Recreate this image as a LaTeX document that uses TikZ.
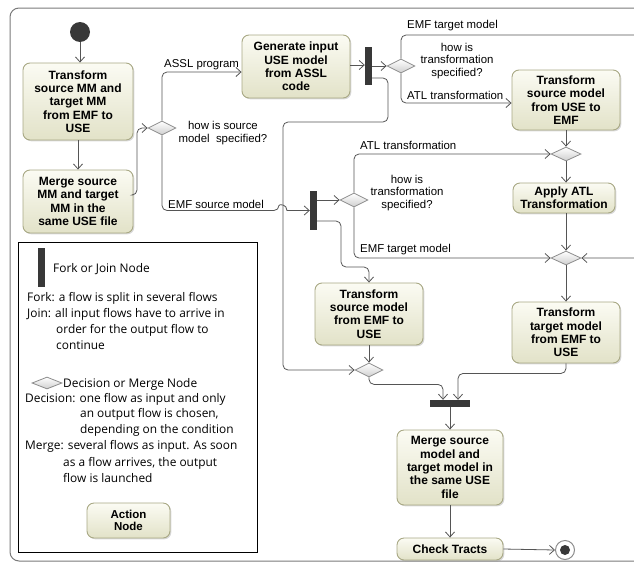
\documentclass[tikz,border=0pt]{standalone}
\usepackage{fontspec}
\setmainfont{Liberation Sans}
\newfontfamily\legendfont{Open Sans}
\usetikzlibrary{arrows.meta,shapes.geometric,shadows}
\definecolor{boxtop}{HTML}{FBFBF3}
\definecolor{boxbot}{HTML}{E2E2C8}
\definecolor{boxline}{HTML}{A8A884}
\definecolor{flow}{HTML}{555555}
\definecolor{barc}{HTML}{383838}
\definecolor{framec}{HTML}{7A7A7A}
\definecolor{diaml}{HTML}{8C8C8C}
\definecolor{diamf}{HTML}{CFCFCF}
\begin{document}
\begin{tikzpicture}[x=1pt,y=-1pt,
  action/.style={draw=boxline, line width=0.9pt, rounded corners=7pt,
    top color=boxtop, bottom color=boxbot, align=center, inner sep=0pt,
    font=\bfseries\fontsize{12}{13.3}\selectfont,
    drop shadow={shadow xshift=1.3pt, shadow yshift=-1.3pt, opacity=0.3, fill=gray}},
  decision/.style={diamond, aspect=2, draw=diaml, line width=0.8pt,
    top color=white, bottom color=diamf, minimum width=28pt, minimum height=14pt, inner sep=0pt},
  forkbar/.style={rectangle, fill=barc, draw=none, inner sep=0pt},
  initnode/.style={circle, fill=barc, draw=none, minimum size=20pt, inner sep=0pt},
  finalnode/.style={circle, fill=white, draw=diaml, line width=1pt, minimum size=19pt, inner sep=0pt,
    path picture={\fill[barc] (path picture bounding box.center) circle[radius=5pt];}},
  flowline/.style={draw=flow, line width=0.8pt, rounded corners=5pt},
  arr/.style={-{Straight Barb[length=5pt,width=9pt]}},
  lab/.style={font=\fontsize{11.4}{12.6}\selectfont, inner sep=0pt},
  leg/.style={font=\legendfont\fontsize{11.9}{13}\selectfont, inner sep=0pt, anchor=base west}
]
\useasboundingbox (0,0) rectangle (634,565);
\clip (0,0) rectangle (634,565);
\draw[framec, line width=1pt, rounded corners=9pt] (10,8) rectangle (720,561);

% ---- nodes
\node[initnode] (init) at (80,32) {};
\node[action, minimum width=110pt, minimum height=77pt] (a1) at (78,101.5) {Transform\\source MM and\\target MM\\from EMF to\\USE};
\node[action, minimum width=110pt, minimum height=63pt] (a2) at (78,201.5) {Merge source\\MM and target\\MM in the\\same USE file};
\node[decision] (dec1) at (162,128) {};
\node[action, minimum width=108pt, minimum height=63pt] (gen) at (296,66.5) {Generate input\\USE model\\from ASSL\\code};
\node[forkbar, minimum width=7pt, minimum height=38pt] (fork1) at (368.5,66) {};
\node[decision] (dec2) at (401,66) {};
\node[action, minimum width=108pt, minimum height=60pt] (tsu) at (566,100) {Transform\\source model\\from USE to\\EMF};
\node[decision, minimum width=30pt] (m3) at (566,154) {};
\node[action, minimum width=102pt, minimum height=30pt] (apply) at (564,198) {Apply ATL\\Transformation};
\node[decision, minimum width=30pt] (m4) at (566,258) {};
\node[action, minimum width=108pt, minimum height=61pt] (ttu) at (566,332.5) {Transform\\target model\\from EMF to\\USE};
\node[forkbar, minimum width=7pt, minimum height=39pt] (fork2) at (313.5,210.5) {};
\node[decision] (dec3) at (354,200) {};
\node[action, minimum width=108pt, minimum height=62pt] (tse) at (369,314) {Transform\\source model\\from EMF to\\USE};
\node[decision] (m5) at (369,370) {};
\node[forkbar, minimum width=40pt, minimum height=7pt] (join) at (450,403.5) {};
\node[action, minimum width=106pt, minimum height=75pt] (msm) at (450,467.5) {Merge source\\model and\\target model in\\the same USE\\file};
\node[action, minimum width=106pt, minimum height=22pt] (ct) at (450,549) {Check Tracts};
\node[finalnode] (fin) at (565,550) {};

% ---- connectors
\draw[flowline, arr] (init) -- (init |- a1.north);
\draw[flowline, arr] (a1.south) -- (a2.north);
\draw[flowline, arr] (a2.east |- 0,195) -- (137,195) |- (dec1.west);
\draw[flowline, arr] (dec1.north) |- (gen.west |- 0,72);
\draw[flowline, arr] (dec1.south) |- (279,210.5) [sharp corners] .. controls (279,204) and (287,204) .. (287,210.5) -- (fork2.west);
\draw[flowline, arr] (gen.east |- 0,65) -- (fork1.west |- 0,65);
\draw[flowline, arr] (fork1.east) -- (dec2.west);
\draw[flowline, arr] (fork1.east |- 0,78) -| (388,122) -| (283,370) -- (m5.west);
\draw[flowline, arr] (dec2.north) |- (660,35) |- (m4.east);
\draw[flowline, arr] (dec2.south) |- (tsu.west |- 0,103);
\draw[flowline, arr] (tsu.south) -- (m3.north);
\draw[flowline, arr] (dec3.north) |- (m3.west);
\draw[flowline, arr] (m3.south) -- (m3.south |- apply.north);
\draw[flowline, arr] (m4 |- apply.south) -- (m4.north);
\draw[flowline, arr] (fork2.east |- dec3) -- (dec3.west);
\draw[flowline, arr] (fork2.east |- 0,221) -| (341,267) -| (tse.north);
\draw[flowline, arr] (dec3.south) |- (m4.west);
\draw[flowline, arr] (m4.south) -- (ttu.north);
\draw[flowline, arr] (tse.south) -- (m5.north);
\draw[flowline, arr] (m5.south) -- ++(0,7) -| ([xshift=-7pt]join.north);
\draw[flowline, arr] (ttu.south) -- ++(0,10) -| ([xshift=8pt]join.north);
\draw[flowline, arr] (join.south) -- (msm.north);
\draw[flowline, arr] (msm.south) -- (ct.north);
\draw[flowline, arr] (ct.east) -- (fin.west);

% ---- edge labels
\node[lab, anchor=base west] (l1) at (164,67) {ASSL program};
\node[lab, align=center] (l2) at (223,133) {how is source\\model\ \ specified?};
\node[lab, anchor=base west] (l3) at (168,208) {EMF source model};
\node[lab, anchor=base west] (l4) at (407,28) {EMF target model};
\node[lab, align=center] (l5) at (457,61) {how is\\transformation\\specified?};
\node[lab, anchor=base west] (l6) at (407,99) {ATL transformation};
\node[lab, anchor=base west] (l7) at (360,149) {ATL transformation};
\node[lab, align=center] (l8) at (407,193) {how is\\transformation\\specified?};
\node[lab, anchor=base west] (l9) at (360,252) {EMF target model};

% ---- legend
\draw[black, line width=0.8pt] (18,242) rectangle (257,552);
\node[forkbar, minimum width=7pt, minimum height=39pt] (lbar) at (41.5,267.5) {};
\node[leg] (g1) at (53,272) {Fork or Join Node};
\node[leg] (g2) at (27,301) {Fork: a flow is split in several flows};
\node[leg] (g3) at (27,317) {Join: all input flows have to arrive in};
\node[leg] (g4) at (56,333) {order for the output flow to};
\node[leg] (g5) at (56,349) {continue};
\node[decision, minimum width=30pt, minimum height=12pt] (ldec) at (47,383) {};
\node[leg] (g6) at (63,387) {Decision or Merge Node};
\node[leg] (g7) at (25,402) {Decision: one flow as input and only};
\node[leg] (g8) at (80,417) {an output flow is chosen,};
\node[leg] (g9) at (80,433) {depending on the condition};
\node[leg] (g10) at (25,449) {Merge: several flows as input. As soon};
\node[leg] (g11) at (63,466) {as a flow arrives, the output};
\node[leg] (g12) at (63,482) {flow is launched};
\node[action, minimum width=83pt, minimum height=35pt, font=\bfseries\fontsize{11.5}{12.7}\selectfont] (lact) at (128.5,520.5) {Action\\Node};
\end{tikzpicture}
\end{document}
